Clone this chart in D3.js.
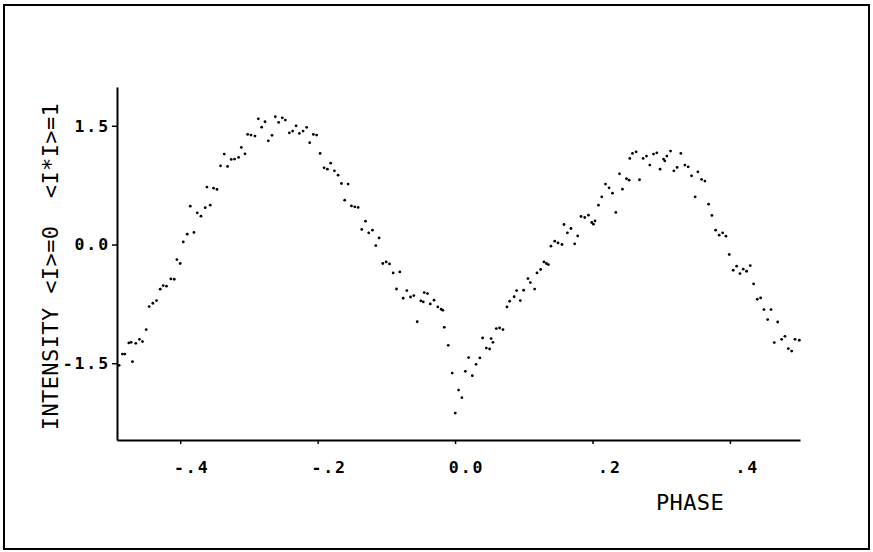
<!DOCTYPE html>
<html>
<head>
<meta charset="utf-8">
<script src="https://cdn.jsdelivr.net/npm/d3@7"></script>
<style>
  html, body { margin: 0; padding: 0; background: #fff; }
  svg { display: block; }
</style>
</head>
<body>
<svg id="chart" width="873" height="552"></svg>
<script>
// ---- data (phase, normalized intensity) ----
const phase = [
  -0.4889, -0.4841, -0.4806, -0.4748, -0.4714, -0.4695, -0.4646, -0.4593, -0.4549, -0.4495,
  -0.4452, -0.4398, -0.4345, -0.4291, -0.4248, -0.4200, -0.4136, -0.4087, -0.4048, -0.4000,
  -0.3956, -0.3898, -0.3854, -0.3800, -0.3752, -0.3698, -0.3636, -0.3611, -0.3563, -0.3515,
  -0.3465, -0.3413, -0.3359, -0.3311, -0.3257, -0.3209, -0.3150, -0.3111, -0.3057, -0.3019,
  -0.2970, -0.2912, -0.2863, -0.2815, -0.2766, -0.2718, -0.2664, -0.2616, -0.2568, -0.2514,
  -0.2470, -0.2412, -0.2364, -0.2314, -0.2266, -0.2212, -0.2160, -0.2116, -0.2062, -0.2014,
  -0.1964, -0.1906, -0.1858, -0.1810, -0.1756, -0.1702, -0.1654, -0.1606, -0.1556, -0.1508,
  -0.1460, -0.1411, -0.1358, -0.1304, -0.1256, -0.1202, -0.1154, -0.1105, -0.1052, -0.1003,
  -0.0954, -0.0901, -0.0852, -0.0804, -0.0755, -0.0702, -0.0648, -0.0600, -0.0551, -0.0498,
  -0.0463, -0.0449, -0.0401, -0.0361, -0.0306, -0.0251, -0.0201, -0.0178, -0.0157, -0.0099,
  -0.0041, 0.0003, 0.0051, 0.0099, 0.0149, 0.0197, 0.0251, 0.0306, 0.0361, 0.0401,
  0.0455, 0.0503, 0.0525, 0.0551, 0.0600, 0.0648, 0.0697, 0.0755, 0.0794, 0.0860,
  0.0896, 0.0950, 0.0998, 0.1061, 0.1096, 0.1158, 0.1192, 0.1246, 0.1294, 0.1329,
  0.1358, 0.1396, 0.1450, 0.1498, 0.1556, 0.1585, 0.1635, 0.1687, 0.1741, 0.1785,
  0.1833, 0.1887, 0.1941, 0.1989, 0.2014, 0.2037, 0.2087, 0.2135, 0.2189, 0.2241,
  0.2291, 0.2339, 0.2393, 0.2436, 0.2495, 0.2533, 0.2543, 0.2582, 0.2635, 0.2684,
  0.2737, 0.2786, 0.2834, 0.2888, 0.2936, 0.2984, 0.3034, 0.3053, 0.3082, 0.3136,
  0.3184, 0.3232, 0.3286, 0.3344, 0.3392, 0.3442, 0.3494, 0.3534, 0.3588, 0.3636,
  0.3690, 0.3738, 0.3792, 0.3844, 0.3894, 0.3942, 0.3990, 0.4048, 0.4098, 0.4146,
  0.4194, 0.4243, 0.4296, 0.4345, 0.4398, 0.4447, 0.4495, 0.4549, 0.4598, 0.4646,
  0.4695, 0.4753, 0.4801, 0.4850, 0.4899, 0.4947, 0.5010
];
const intensity = [
  -1.527, -1.384, -1.384, -1.244, -1.236, -1.480, -1.248, -1.198, -1.227, -1.075,
  -0.784, -0.742, -0.708, -0.565, -0.519, -0.527, -0.435, -0.439, -0.190, -0.240,
  0.033, 0.130, 0.484, 0.152, 0.400, 0.358, 0.465, 0.725, 0.497, 0.712,
  0.696, 0.994, 1.142, 0.986, 1.075, 1.079, 1.100, 1.227, 1.146, 1.391,
  1.382, 1.370, 1.588, 1.483, 1.551, 1.310, 1.379, 1.614, 1.543, 1.601,
  1.572, 1.411, 1.433, 1.500, 1.404, 1.433, 1.480, 1.287, 1.391, 1.382,
  1.151, 0.969, 0.952, 1.028, 0.931, 0.876, 0.771, 0.560, 0.763, 0.488,
  0.476, 0.468, 0.190, 0.295, 0.147, 0.181, -0.013, 0.083, -0.240, -0.220,
  -0.245, -0.359, -0.562, -0.347, -0.679, -0.582, -0.663, -0.645, -0.976, -0.711,
  -0.726, -0.607, -0.620, -0.751, -0.704, -0.789, -0.818, -0.831, -1.046, -1.274,
  -1.624, -2.130, -1.839, -1.935, -1.602, -1.429, -1.657, -1.514, -1.433, -1.181,
  -1.308, -1.320, -1.189, -1.236, -1.062, -1.055, -1.075, -0.789, -0.717, -0.660,
  -0.582, -0.708, -0.578, -0.430, -0.481, -0.563, -0.359, -0.316, -0.220, -0.240,
  -0.253, -0.021, 0.042, 0.020, 0.000, 0.253, 0.147, 0.202, 0.008, 0.109,
  0.354, 0.341, 0.371, 0.278, 0.257, 0.298, 0.497, 0.602, 0.763, 0.716,
  0.649, 0.405, 0.893, 0.699, 0.832, 0.813, 1.088, 1.151, 1.171, 0.818,
  1.088, 1.117, 1.003, 1.142, 1.158, 0.952, 1.079, 1.057, 1.117, 1.180,
  0.931, 0.974, 1.151, 1.003, 0.981, 0.868, 0.602, 0.918, 0.822, 0.801,
  0.510, 0.367, 0.181, 0.118, 0.147, 0.105, -0.126, -0.325, -0.274, -0.367,
  -0.312, -0.338, -0.266, -0.498, -0.692, -0.675, -0.822, -0.949, -0.822, -1.239,
  -0.979, -1.198, -1.160, -1.315, -1.346, -1.198, -1.210
];
const xTicks = [-0.4, -0.2, 0.0, 0.2, 0.4];
const xTickLabels = ["-.4", "-.2", "0.0", ".2", ".4"];
const yTicks = [-1.5, 0.0, 1.5];
const yTickLabels = ["-1.5", "0.0", "1.5"];
const xTitle = "PHASE";
const yTitle = "INTENSITY <I>=0  <I*I>=1";

// ---- layout ----
const W = 873, H = 552;
const plot = { left: 117, right: 800, top: 87, bottom: 440 };
const svg = d3.select("#chart");

const x = d3.scaleLinear().domain([-0.492, 0.502]).range([plot.left, plot.right]);
const y = d3.scaleLinear().domain([-2.47, 1.99]).range([plot.bottom, plot.top]);

// outer frame
svg.append("rect")
  .attr("x", 4).attr("y", 5).attr("width", 865).attr("height", 544)
  .attr("fill", "none").attr("stroke", "#000").attr("stroke-width", 2);

const tickFont = "'DejaVu Sans Mono', monospace";
const tickSizePx = 16.5, tickLS = 1.9;
const charW = tickSizePx * 0.602 + tickLS;

// x axis
const xAxis = d3.axisBottom(x)
  .tickValues(xTicks)
  .tickFormat((d, i) => xTickLabels[i])
  .tickSize(4).tickSizeOuter(0);
const gx = svg.append("g").attr("transform", `translate(0,${plot.bottom})`).call(xAxis);
gx.select(".domain").attr("stroke-width", 2);
gx.selectAll(".tick line").attr("stroke-width", 1.5);
gx.selectAll(".tick text")
  .attr("font-family", tickFont).attr("font-size", tickSizePx).attr("font-weight", "bold")
  .attr("letter-spacing", tickLS).attr("fill", "#000")
  .attr("text-anchor", "start")
  .attr("dy", null).attr("y", 33)
  .attr("x", function(d, i) {
    const s = xTickLabels[i];
    const idx = s.indexOf(".");
    return 11 - (idx + 0.5) * charW;
  });

// y axis
const yAxis = d3.axisLeft(y)
  .tickValues(yTicks)
  .tickFormat((d, i) => yTickLabels[i])
  .tickSize(5).tickSizeOuter(0).tickPadding(2);
const gy = svg.append("g").attr("transform", `translate(${plot.left},0)`).call(yAxis);
gy.select(".domain").attr("stroke-width", 2);
gy.selectAll(".tick line").attr("stroke-width", 1.5);
gy.selectAll(".tick text")
  .attr("font-family", tickFont).attr("font-size", tickSizePx).attr("font-weight", "bold")
  .attr("letter-spacing", tickLS).attr("fill", "#000");

// axis titles
svg.append("text")
  .attr("x", 690).attr("y", 510)
  .attr("text-anchor", "middle")
  .attr("font-family", tickFont).attr("font-size", 22).attr("letter-spacing", 0.4)
  .attr("fill", "#000")
  .text(xTitle);

svg.append("text")
  .attr("transform", "translate(57.5,266.5) rotate(-90)")
  .attr("text-anchor", "middle")
  .attr("font-family", tickFont).attr("font-size", 22).attr("letter-spacing", 0.4)
  .attr("fill", "#000")
  .attr("xml:space", "preserve")
  .style("white-space", "pre")
  .text(yTitle);

// points
const pts = phase.map((p, i) => ({ p, v: intensity[i] }));
svg.append("g").selectAll("circle")
  .data(pts).join("circle")
  .attr("cx", d => x(d.p))
  .attr("cy", d => y(d.v))
  .attr("r", 1.4)
  .attr("fill", "#000");
</script>
</body>
</html>
